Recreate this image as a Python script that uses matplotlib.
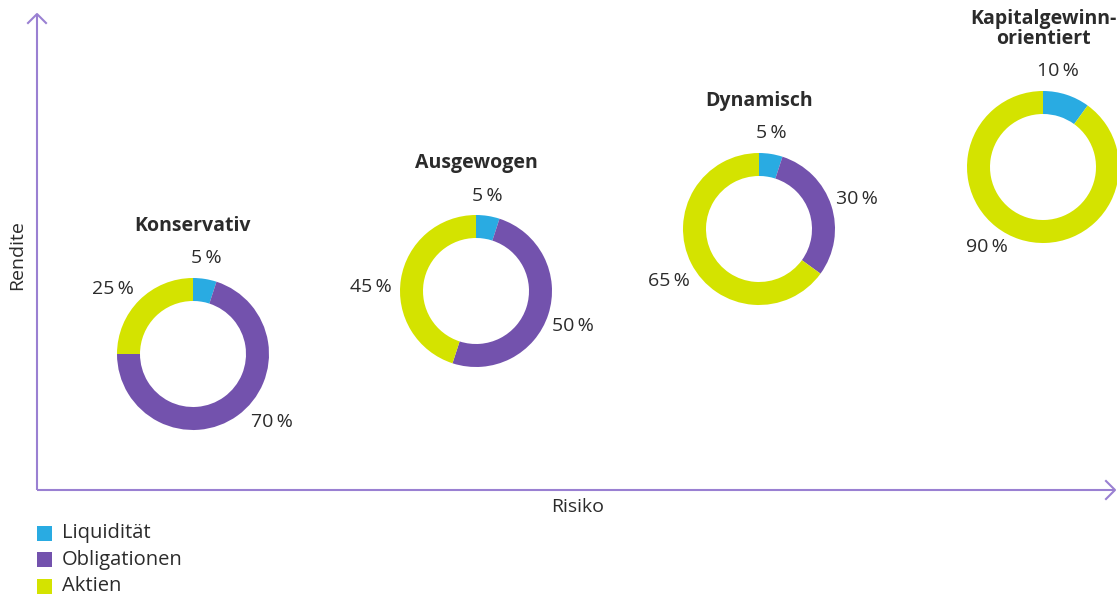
import matplotlib
matplotlib.use("Agg")
import matplotlib.pyplot as plt
import numpy as np

# ---- data ----
portfolios = ["Konservativ", "Ausgewogen", "Dynamisch", "Kapitalgewinn-\norientiert"]
categories = ["Liquidität", "Obligationen", "Aktien"]
liquiditaet = [5, 5, 5, 10]
obligationen = [70, 50, 30, 0]
aktien = [25, 45, 65, 90]
x_label = "Risiko"
y_label = "Rendite"

# ---- style / layout ----
colors = ["#29abe2", "#7352ad", "#d4e300"]
axis_color = "#9a80d2"
text_color = "#2b2b2b"
W, H = 1117, 599
centers_px = [(193, 354), (476, 291), (759, 229), (1043, 167)]
R_OUT, R_W = 76, 23
# label placement: (angle clockwise from 12 o'clock, distance) per wedge
label_place = [
    [(8, 97), (131, 104), (309, 103)],
    [(7, 96), (110, 103), (272, 105)],
    [(7, 97), (73, 102), (240, 104)],
    [(9, 97), None, (215, 98)],
]
title_offset = [128, 128, 128, 138]

plt.rcParams['font.family'] = ['Open Sans', 'DejaVu Sans']
fig = plt.figure(figsize=(W / 100, H / 100), dpi=100)
ax = fig.add_axes([0, 0, 1, 1])

for i, name in enumerate(portfolios):
    cx, cy = centers_px[i]
    cy = H - cy
    vals = [liquiditaet[i], obligationen[i], aktien[i]]
    ax.pie(vals, colors=colors, startangle=90, counterclock=False,
           radius=R_OUT, center=(cx, cy),
           wedgeprops=dict(width=R_W, linewidth=0), frame=True)
    for j, v in enumerate(vals):
        if v == 0 or label_place[i][j] is None:
            continue
        ang, dist = label_place[i][j]
        a = np.deg2rad(ang)
        tx = cx + dist * np.sin(a)
        ty = cy + dist * np.cos(a)
        ax.text(tx, ty, f"{v}\u2009%", ha="center", va="center",
                fontsize=14, color=text_color)
    ax.text(cx, cy + title_offset[i], name, ha="center", va="center",
            fontsize=14, fontweight="bold", color=text_color,
            linespacing=0.95)

# axes with arrows
x0, y0 = 37, H - 490
ax.plot([x0, x0], [y0, H - 14], color=axis_color, lw=1.5, solid_capstyle="butt")
ax.plot([x0, 1115], [y0, y0], color=axis_color, lw=1.5, solid_capstyle="butt")
ax.plot([x0 - 9, x0, x0 + 9], [H - 23, H - 14, H - 23], color=axis_color, lw=1.5)
ax.plot([1106, 1115, 1106], [y0 + 9, y0, y0 - 9], color=axis_color, lw=1.5)

ax.text(578, H - 507, x_label, ha="center", va="center", fontsize=14, color=text_color)
ax.text(17, H - 255, y_label, ha="center", va="center", fontsize=14,
        color=text_color, rotation=90)

# legend
for k, cat in enumerate(categories):
    yy = H - (533 + 26.5 * k)
    ax.add_patch(plt.Rectangle((37, yy - 7.5), 15, 15, color=colors[k], lw=0))
    ax.text(62, yy, cat, ha="left", va="center", fontsize=14.5, color=text_color)

ax.set_xlim(0, W)
ax.set_ylim(0, H)
ax.set_aspect("equal")
ax.axis("off")
fig.savefig("out.png", dpi=100)
